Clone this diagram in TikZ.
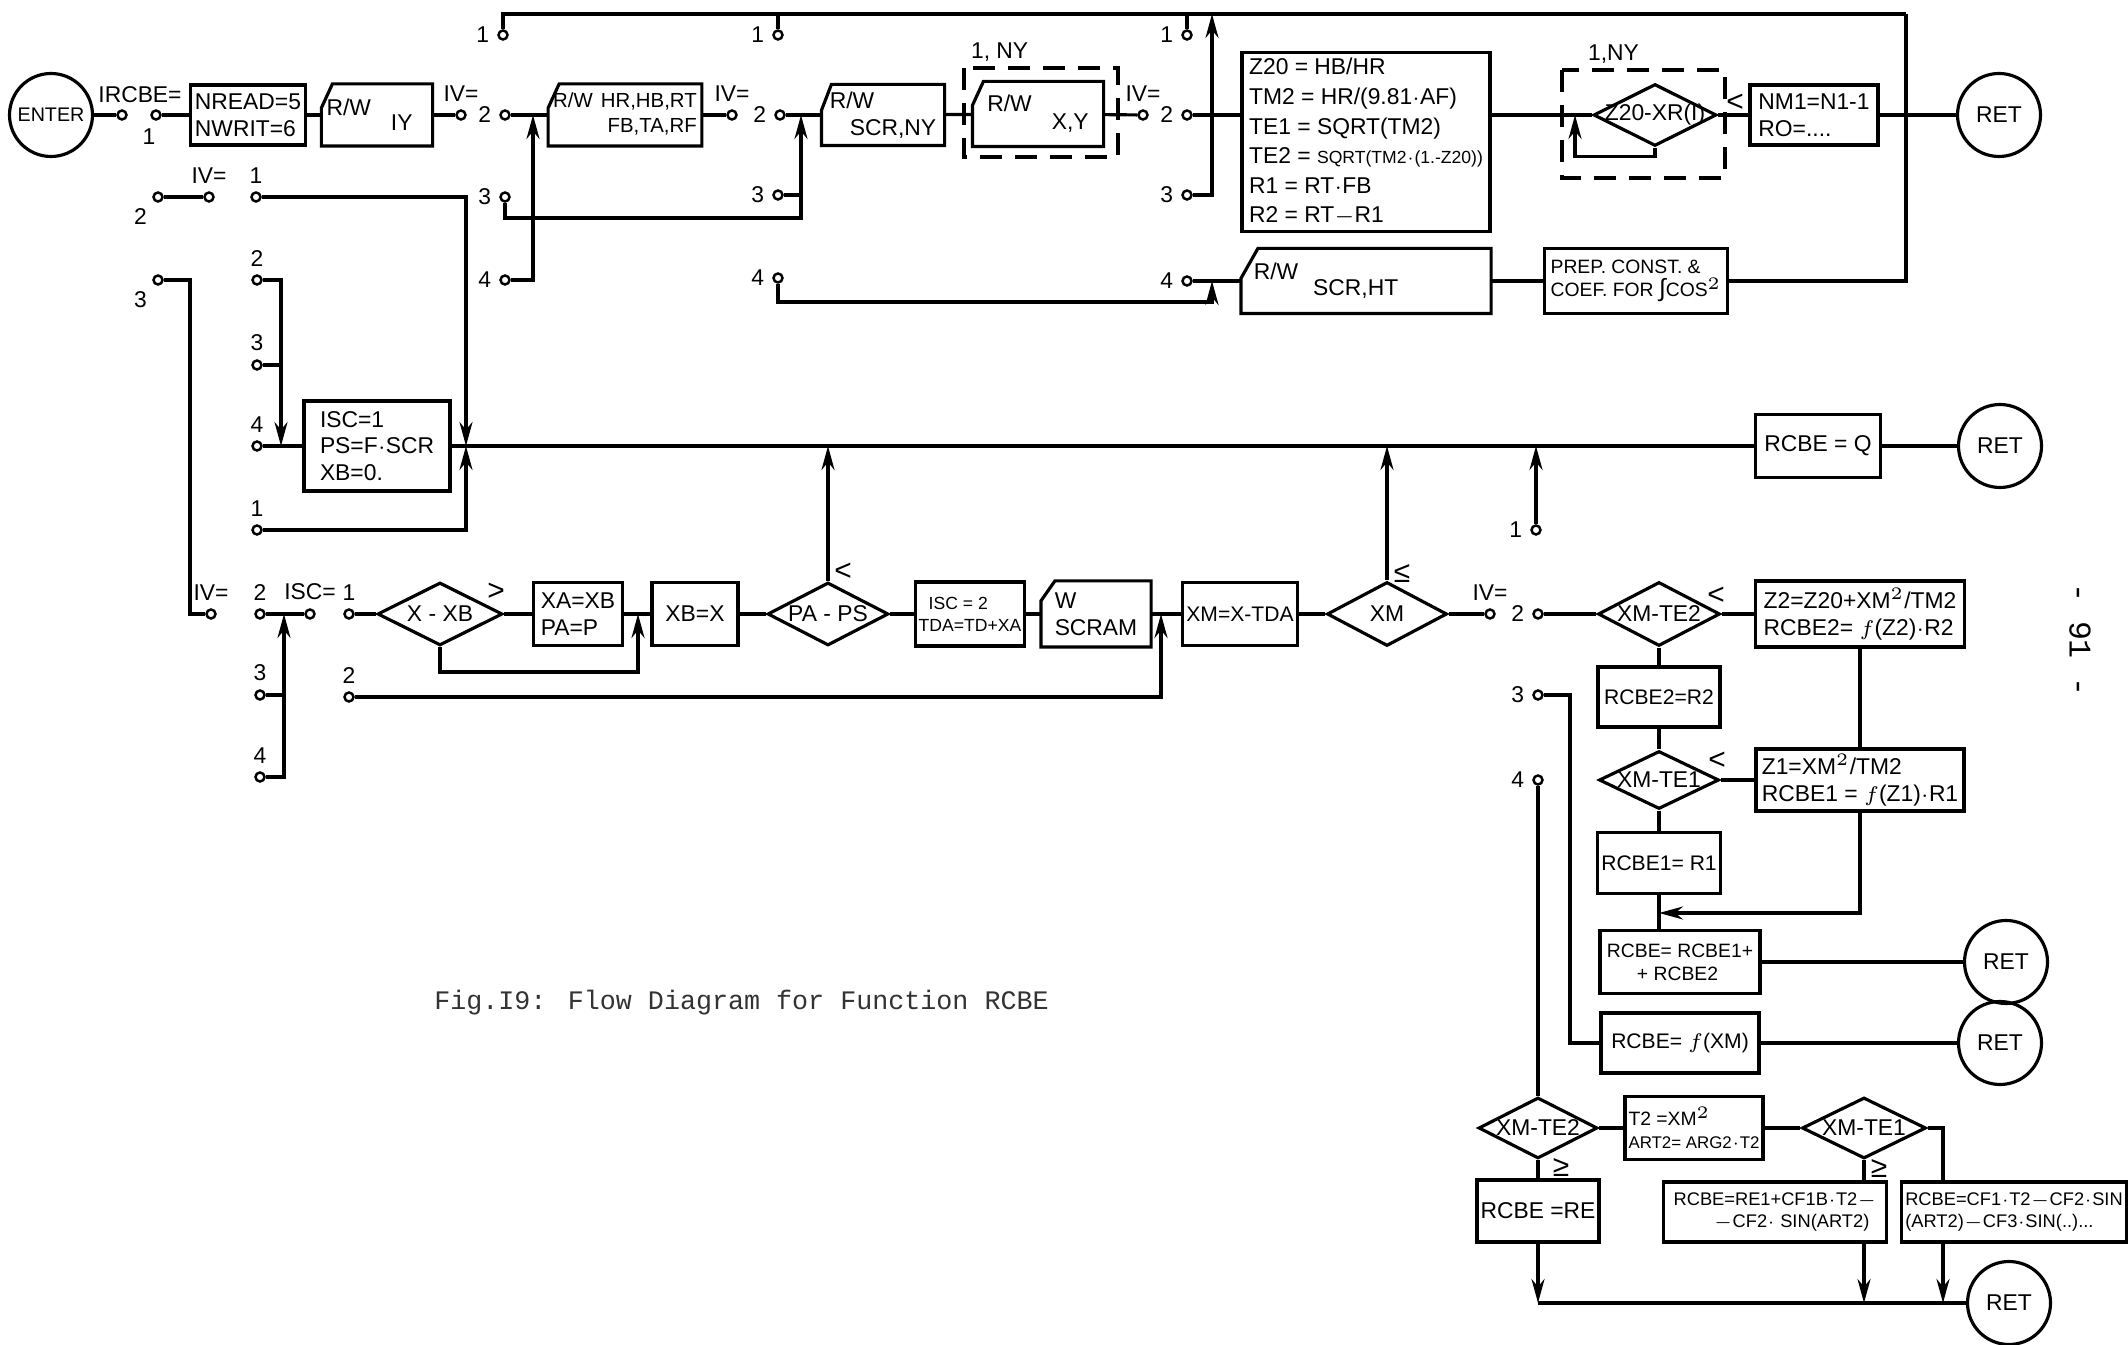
\documentclass[tikz,border=0pt]{standalone}
\usepackage{fontspec}
\setmainfont{Liberation Sans}
\newfontfamily\capfont{Liberation Mono}
\usetikzlibrary{shapes.geometric,arrows.meta}
\newcommand{\handfont}{\fontsize{6.5pt}{7.6pt}\selectfont}
\newcommand{\midhand}{\fontsize{6pt}{7.2pt}\selectfont}
\newcommand{\smallhand}{\fontsize{5.5pt}{6.6pt}\selectfont}
\newcommand{\tinyhand}{\fontsize{5pt}{6.2pt}\selectfont}

\begin{document}
\begin{tikzpicture}[x=0.1mm, y=-0.1mm, line width=0.9pt,
    >={Stealth[length=2.4mm, width=1.3mm]},
    box/.style={draw, rectangle, inner sep=1pt, align=left, font=\handfont},
    card/.style={rectangle, inner sep=1pt, align=left, font=\handfont},
    dia/.style={draw, diamond, inner sep=0pt, font=\handfont},
    endcircle/.style={draw, circle, minimum size=8.3mm, inner sep=0pt, font=\handfont},
    term/.style={draw, circle, fill=white, minimum size=0.9mm, inner sep=0pt, line width=0.7pt},
    lab/.style={font=\handfont, inner sep=1pt},
    rel/.style={font=\fontsize{8.5pt}{9pt}\selectfont, inner sep=0pt},
    loopframe/.style={dash pattern=on 2.2mm off 1.3mm},
    label distance=0.3mm]
\path[use as bounding box, fill=white] (0,0) rectangle (2128,1345);

% Top row
\node[endcircle, font=\fontsize{5.6pt}{6pt}\selectfont] (enter) at (51,115) {ENTER};
\node[term] (irc) at (122,115) {};
\node[term] (irc1) at (156,115) {};
\node[lab] (ircbe) at (140,95) {IRCBE=};
\node[lab] (ircone) at (149,137) {1};
\node[box, minimum width=11.5mm, minimum height=6mm] (nread) at (248,115) {NREAD=5\\NWRIT=6};
\node[card, minimum width=10.7mm, minimum height=5.9mm] (rwiy) at (377,115)
    {\raisebox{1mm}{R/W}\hspace{2mm}\raisebox{-.5mm}{IY}\rule{1.5mm}{0pt}};

% first IV switch
\node[term, label={[lab]above:IV=}] (sa) at (461,115) {};
\node[term, label={[lab]left:1}] (sa1) at (503,35) {};
\node[term, label={[lab]left:2}] (sa2) at (505,115) {};
\node[term, label={[lab]left:3}] (sa3) at (505,197) {};
\node[term, label={[lab]left:4}] (sa4) at (505,280) {};
\node[card, minimum width=15mm, minimum height=5.9mm, font=\fontsize{5.8pt}{7pt}\selectfont] (rwhr) at (625,115)
    {R/W\hspace{.8mm}\begin{tabular}[t]{@{}r@{}}HR,HB,RT\\FB,TA,RF\end{tabular}};

% second IV switch
\node[term, label={[lab]above:IV=}] (sb) at (732,115) {};
\node[term, label={[lab]left:1}] (sb1) at (778,35) {};
\node[term, label={[lab]left:2}] (sb2) at (780,115) {};
\node[term, label={[lab]left:3}] (sb3) at (778,195) {};
\node[term, label={[lab]left:4}] (sb4) at (778,278) {};
\node[card, minimum width=12mm, minimum height=5.8mm] (rwny) at (883,115) {R/W\\\hspace*{2mm}SCR,NY};
\node[card, minimum width=12.8mm, minimum height=6.2mm] (rwxy) at (1038,114)
    {R/W\hspace{2mm}\raisebox{-1.8mm}{X,Y}};
\draw[loopframe] (964,68) rectangle (1118,157);
\node[lab, anchor=south west] (ny1) at (966,67) {1, NY};

% third IV switch
\node[term, label={[lab]above:IV=}] (sc) at (1143,115) {};
\node[term, label={[lab]left:1}] (sc1) at (1187,35) {};
\node[term, label={[lab]left:2}] (sc2) at (1187,115) {};
\node[term, label={[lab]left:3}] (sc3) at (1187,195) {};
\node[term, label={[lab]left:4}] (sc4) at (1187,281) {};
\node[box, minimum width=24.8mm, minimum height=17.9mm, font=\fontsize{6.5pt}{8.4pt}\selectfont] (z20) at (1366,142)
    {Z20 = HB/HR\\TM2 = HR/(9.81$\cdot$AF)\\TE1 = SQRT(TM2)\\TE2 = {\fontsize{5pt}{5.5pt}\selectfont SQRT(TM2$\cdot$(1.-Z20))}\\R1 = RT$\cdot$FB\\R2 = RT$-$R1};
\node[card, minimum width=24.7mm, minimum height=6.2mm] (rwht) at (1366,281)
    {\raisebox{.8mm}{R/W}\hspace{1.5mm}\raisebox{-.8mm}{SCR,HT}\rule{8mm}{0pt}};
\node[box, minimum width=18.3mm, minimum height=6.5mm, font=\smallhand] (prep) at (1636,281)
    {PREP. CONST. \&\\COEF. FOR {\fontsize{7pt}{7pt}\selectfont∫}COS$^2$};
\node[dia, minimum width=12.3mm, minimum height=6.2mm] (zxr) at (1655,115) {\makebox[0pt]{Z20-XR(I)}};
\draw[loopframe] (1562,70) rectangle (1725,178);
\node[lab, anchor=south west] (ny2) at (1583,69) {1,NY};
\node[rel] (lt4) at (1735,103) {<};
\node[box, minimum width=12.8mm, minimum height=6mm] (nm1) at (1814,115) {NM1=N1-1\\RO=....};
\node[endcircle] (ret1) at (1999,115) {RET};

% read/write cards: corner cut off
\foreach \c/\cx/\cy in {rwiy/1.1/2.4, rwhr/1.1/2.4, rwny/1/2.6, rwxy/1.1/2.4, rwht/1.7/3}
  \draw (\c.south west) -- ([yshift=-\cy*1mm]\c.north west) -- ([xshift=\cx*1mm]\c.north west)
    -- (\c.north east) -- (\c.south east) -- cycle;

% top row connectors
\coordinate (topr) at (1906,14);
\coordinate (ja) at (533,115);
\coordinate (jb) at (801,115);
\coordinate (jc) at (1212,14);
\coordinate (je) at (1212,281);
\coordinate (jf) at (1575,115);
\draw (enter) -- (irc);
\draw (irc1) -- (nread);
\draw (nread) -- (rwiy);
\draw (rwiy) -- (sa);
\draw (sa2) -- (rwhr);
\draw[->] (sa4) -| (ja);
\draw[->] (sa3) -- ++(0,21) -| (jb);
\draw (rwhr) -- (sb);
\draw (sb2) -- (rwny);
\draw (sb3) -- (sb3 -| jb);
\draw[->] (sb4) -- ++(0,24) -| (je);
\draw (rwny) -- (rwxy);
\draw (rwxy) -- (sc);
\draw (sc2) -- (sc2 -| z20.west);
\draw[->] (sc3) -| (jc);
\draw (sc4) -- (rwht);
\draw (rwht) -- (prep);
\draw (z20.east |- zxr) -- (zxr);
\draw[->] (zxr.south) -- ++(0,9) -| (jf);
\draw (zxr) -- (nm1);
\draw (nm1) -- (ret1);
\draw (sa1) |- (topr);
\draw (sb1) -- (sb1 |- topr);
\draw (sc1) -- (sc1 |- topr);
\draw (prep) -| (topr);

% Second block
\node[term, label={[lab]below left:2}] (sd2) at (158,197) {};
\node[term, label={[lab]above:IV=}] (sd) at (209,197) {};
\node[term, label={[lab]above:1}] (sd1) at (256,197) {};
\node[term, label={[lab]below left:3}] (se3) at (158,280) {};
\node[term, label={[lab]above:2}] (sf2) at (257,280) {};
\node[term, label={[lab]above:3}] (sf3) at (257,365) {};
\node[term, label={[lab]above:4}] (sf4) at (257,446) {};
\node[term, label={[lab]above:1}] (sf1) at (257,530) {};
\node[box, minimum width=14.6mm, minimum height=9mm] (isc) at (377,446) {ISC=1\\PS=F$\cdot$SCR\\XB=0.};
\node[box, minimum width=12.5mm, minimum height=6.3mm] (rcbeq) at (1818,446) {RCBE = Q};
\node[endcircle] (ret2) at (2000,446) {RET};
\node[term, label={[lab]left:1}] (si1) at (1536,530) {};

\coordinate (jg) at (466,446);
\coordinate (jh) at (281,446);
\coordinate (jk) at (828,446);
\coordinate (jm) at (1387,446);
\coordinate (jn) at (1536,446);
\draw (sd2) -- (sd);
\draw[->] (sd1) -| (jg);
\draw[->] (sf2) -| (jh);
\draw (sf3) -- (sf3 -| jh);
\draw (sf4) -- (isc);
\draw[->] (sf1) -| (jg);
\draw (isc) -- (rcbeq);
\draw (rcbeq) -- (ret2);
\draw[->] (si1) -- (jn);

% Bottom row
\node[term, label={[lab]above:IV=}] (sg) at (211,614) {};
\node[term, label={[lab]above:2}] (sg2) at (260,614) {};
\node[term, label={[lab]above:3}] (sg3) at (260,695) {};
\node[term, label={[lab]above:4}] (sg4) at (260,777) {};
\node[term, label={[lab]above:ISC=}] (sh) at (310,614) {};
\node[term, label={[lab]above:1}] (sh1) at (349,614) {};
\node[term, label={[lab]above:2}] (sh2) at (349,697) {};
\node[dia, minimum width=12.5mm, minimum height=6.3mm] (xxb) at (440,614) {\makebox[0pt]{X - XB}};
\node[rel] (gt1) at (496,592) {>};
\node[box, minimum width=8.9mm, minimum height=6.3mm] (xa) at (578,614) {XA=XB\\PA=P};
\node[box, minimum width=8.6mm, minimum height=6.3mm] (xb) at (695,614) {XB=X};
\node[dia, minimum width=12.1mm, minimum height=6.3mm] (papa) at (828,614) {\makebox[0pt]{PA - PS}};
\node[rel] (lt1) at (843,572) {<};
\node[box, minimum width=10.8mm, minimum height=6.4mm, font=\tinyhand] (isc2) at (970,614) {\hspace*{1mm}ISC = 2\\TDA=TD+XA};
\node[card, minimum width=10.7mm, minimum height=6.3mm] (scram) at (1096,614) {W\\SCRAM};
\node[box, minimum width=11.3mm, minimum height=6.3mm, font=\midhand] (xmx) at (1240,614) {XM=X-TDA};
\node[dia, minimum width=12mm, minimum height=6.4mm] (xm) at (1387,614) {\makebox[0pt]{XM}};
\node[rel] (le1) at (1402,574) {≤};
\node[term, label={[lab]above:IV=}] (si) at (1490,614) {};
\node[term, label={[lab]left:2}] (si2) at (1538,614) {};
\node[term, label={[lab]left:3}] (si3) at (1538,695) {};
\node[term, label={[lab]left:4}] (si4) at (1538,780) {};
\draw (scram.south west) -- ([yshift=-2mm]scram.north west) -- ([xshift=1.4mm]scram.north west)
    -- (scram.north east) -- (scram.south east) -- cycle;

\coordinate (ji) at (284,614);
\coordinate (jj) at (638,614);
\coordinate (jl) at (1161,614);
\draw (se3) -- ++(32,0) |- (sg);
\draw (sg2) -- (sh);
\draw[->] (sg4) -| (ji);
\draw (sg3) -- (sg3 -| ji);
\draw (sh1) -- (xxb);
\draw (xxb) -- (xa);
\draw[->] (xxb.south) -- ++(0,25) -| (jj);
\draw (xa) -- (xb);
\draw (xb) -- (papa);
\draw[->] (papa.north) -- (jk);
\draw (papa) -- (isc2);
\draw (isc2) -- (scram);
\draw (scram) -- (xmx);
\draw[->] (sh2) -| (jl);
\draw (xmx) -- (xm);
\draw[->] (xm.north) -- (jm);
\draw (xm) -- (si);

% Right column
\node[dia, minimum width=12.2mm, minimum height=6.4mm] (xmte2) at (1659,614) {\makebox[0pt]{XM-TE2}};
\node[rel] (lt2) at (1716,596) {<};
\node[box, minimum width=20.9mm, minimum height=6.6mm] (z2) at (1860,614) {Z2=Z20+XM$^2$/TM2\\RCBE2= $f$(Z2)$\cdot$R2};
\node[box, minimum width=12.2mm, minimum height=6mm, font=\midhand] (rcbe2) at (1659,697) {RCBE2=R2};
\node[dia, minimum width=12mm, minimum height=5.8mm] (xmte1) at (1659,780) {\makebox[0pt]{XM-TE1}};
\node[rel] (lt3) at (1717,761) {<};
\node[box, minimum width=20.8mm, minimum height=6.2mm] (z1) at (1860,780) {Z1=XM$^2$/TM2\\RCBE1 = $f$(Z1)$\cdot$R1};
\node[box, minimum width=12.3mm, minimum height=6.1mm, font=\midhand] (rcbe1r) at (1659,863) {RCBE1= R1};
\node[box, minimum width=16mm, minimum height=6.3mm, font=\smallhand] (rcbesum) at (1680,962) {RCBE= RCBE1+\\\hspace*{3mm}+ RCBE2};
\node[endcircle] (ret3) at (2006,962) {RET};
\node[box, minimum width=15.8mm, minimum height=6mm, font=\midhand] (rcbef) at (1680,1043) {RCBE= $f$(XM)};
\node[endcircle] (ret4) at (2000,1043) {RET};
\node[dia, minimum width=11.9mm, minimum height=6.1mm] (xmte2b) at (1538,1128) {\makebox[0pt]{XM-TE2}};
\node[rel] (ge1) at (1561,1168) {≥};
\node[box, minimum width=12.1mm, minimum height=6.2mm] (rcbere) at (1538,1211) {RCBE =RE};
\node[box, minimum width=13.1mm, minimum height=6.3mm, font=\smallhand] (t2) at (1694,1128) {T2 =XM$^2$\\{\fontsize{4.8pt}{5pt}\selectfont ART2= ARG2$\cdot$T2}};
\node[dia, minimum width=12.4mm, minimum height=6.1mm] (xmte1b) at (1864,1128) {\makebox[0pt]{XM-TE1}};
\node[rel] (ge2) at (1879,1169) {≥};
\node[box, minimum width=22.3mm, minimum height=6mm, font=\fontsize{5.2pt}{6.4pt}\selectfont] (rcbee1) at (1775,1212) {RCBE=RE1+CF1B$\cdot$T2$-$\\\hspace*{4mm}$-$CF2$\cdot$ SIN(ART2)};
\node[box, minimum width=22.1mm, minimum height=6mm, font=\fontsize{5.2pt}{6.4pt}\selectfont] (rcbecf) at (2014,1212) {RCBE=CF1$\cdot$T2$-$CF2$\cdot$SIN\\(ART2)$-$CF3$\cdot$SIN(..)...};
\node[endcircle] (ret5) at (2009,1303) {RET};

\coordinate (jo) at (1659,913);
\coordinate (jp) at (1943,1182);
\draw (si2) -- (xmte2);
\draw (xmte2) -- (z2);
\draw (xmte2) -- (rcbe2);
\draw (rcbe2) -- (xmte1);
\draw (xmte1) -- (z1);
\draw (xmte1) -- (rcbe1r);
\draw (z2) -- (z1);
\draw[->] (z1) |- (jo);
\draw (rcbe1r) -- (rcbe1r |- rcbesum.north);
\draw (rcbesum) -- (ret3);
\draw (si3) -- ++(32,0) |- (rcbef);
\draw (rcbef) -- (ret4);
\draw (si4) -- (xmte2b);
\draw (xmte2b) -- (rcbere);
\draw (xmte2b) -- (t2);
\draw (t2) -- (xmte1b);
\draw (xmte1b) -- (xmte1b |- rcbee1.north);
\draw (xmte1b) -| (jp);
\draw[->] (rcbere) -- (rcbere |- ret5);
\draw[->] (xmte1b |- rcbee1.south) -- (xmte1b |- ret5);
\draw[->] (jp |- rcbecf.south) -- (jp |- ret5);
\draw (rcbere |- ret5) -- (ret5);

% Caption and page number
\node[font=\capfont\fontsize{7.6pt}{9pt}\selectfont, anchor=west, text=black!80] (caption) at (421,1003)
    {Fig.I9: Flow Diagram for Function RCBE};
\node[font=\capfont\fontsize{9pt}{10pt}\selectfont, rotate=-90] (pagenum) at (2080,640) {- 91 -};
\end{tikzpicture}
\end{document}
